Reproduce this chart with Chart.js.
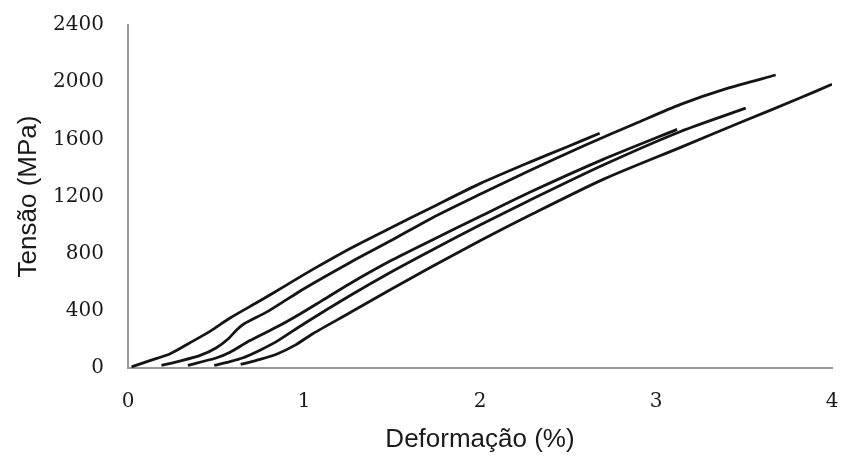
<!DOCTYPE html>
<html>
<head>
<meta charset="utf-8">
<script src="https://cdn.jsdelivr.net/npm/chart.js@4/dist/chart.umd.min.js"></script>
<style>
  html, body { margin: 0; padding: 0; background: #fff; }
  #wrap { width: 842px; height: 457px; position: relative; }
</style>
</head>
<body>
<div id="wrap"><canvas id="c" width="842" height="457"></canvas></div>
<script>
// Data
const xTicks = [0, 1, 2, 3, 4];
const yTicks = [0, 400, 800, 1200, 1600, 2000, 2400];

const strain1 = [0.02, 0.12, 0.24, 0.35, 0.47, 0.58, 0.75, 0.9, 1.05, 1.26, 1.5, 1.72, 2.0, 2.28, 2.5, 2.68];
const stress1 = [8, 50, 100, 175, 260, 350, 470, 580, 690, 835, 985, 1120, 1290, 1439, 1550, 1642];

const strain2 = [0.19, 0.3, 0.41, 0.5, 0.57, 0.62, 0.66, 0.8, 1.0, 1.26, 1.5, 1.72, 2.0, 2.28, 2.6, 2.9, 3.14, 3.4, 3.68];
const stress2 = [18, 50, 88, 140, 205, 270, 310, 400, 555, 737, 895, 1045, 1215, 1380, 1560, 1720, 1845, 1955, 2050];

const strain3 = [0.34, 0.5, 0.58, 0.69, 0.85, 0.98, 1.1, 1.26, 1.5, 1.72, 2.0, 2.28, 2.7, 3.12];
const stress3 = [18, 70, 110, 190, 290, 380, 470, 590, 755, 891, 1060, 1228, 1460, 1670];

const strain4 = [0.49, 0.58, 0.65, 0.75, 0.85, 1.0, 1.26, 1.5, 1.72, 2.0, 2.28, 2.7, 3.14, 3.51];
const stress4 = [18, 45, 70, 125, 190, 310, 505, 675, 821, 1000, 1172, 1420, 1655, 1818];

const strain5 = [0.64, 0.75, 0.85, 0.95, 1.05, 1.26, 1.5, 1.72, 2.0, 2.28, 2.7, 3.14, 3.51, 3.8, 4.0];
const stress5 = [25, 60, 100, 160, 240, 386, 555, 705, 890, 1067, 1320, 1544, 1733, 1880, 1985];

const series = [
  [strain1, stress1],
  [strain2, stress2],
  [strain3, stress3],
  [strain4, stress4],
  [strain5, stress5]
];

const datasets = series.map(([xs, ys], i) => ({
  label: 'CP ' + (i + 1),
  data: xs.map((x, k) => ({ x: x, y: ys[k] })),
  borderColor: '#151515',
  borderWidth: 2.8,
  pointRadius: 0,
  tension: 0.25,
  fill: false
}));

const tickFont = { family: '"DejaVu Serif", "Liberation Serif", serif', size: 20 };
const titleFont = { family: '"Liberation Sans", Arial, sans-serif', size: 26 };

new Chart(document.getElementById('c'), {
  type: 'line',
  data: { datasets },
  options: {
    responsive: false,
    animation: false,
    devicePixelRatio: 1,
    layout: { padding: { top: 25, right: 10, left: 0, bottom: 0 } },
    plugins: { legend: { display: false }, tooltip: { enabled: false } },
    scales: {
      x: {
        type: 'linear',
        min: 0, max: 4,
        afterBuildTicks: (s) => { s.ticks = xTicks.map(v => ({ value: v })); },
        afterFit: (s) => { s.height = 89; s.paddingLeft = 0; s.paddingRight = 0; },
        grid: { display: false, drawTicks: false },
        border: { display: true, color: '#999', width: 2 },
        ticks: { color: '#1a1a1a', font: tickFont, padding: 22, maxRotation: 0, callback: (v) => String(v) },
        title: { display: true, text: 'Deformação (%)', color: '#1a1a1a', font: titleFont, padding: { top: 0, bottom: 2 } }
      },
      y: {
        type: 'linear',
        min: 0, max: 2400,
        afterBuildTicks: (s) => { s.ticks = yTicks.map(v => ({ value: v })); },
        afterFit: (s) => { s.width = 128; s.paddingTop = 0; s.paddingBottom = 0; },
        grid: { display: false, drawTicks: false },
        border: { display: true, color: '#999', width: 2 },
        ticks: { color: '#1a1a1a', font: tickFont, padding: 24, callback: (v) => String(v) },
        title: { display: true, text: 'Tensão (MPa)', color: '#1a1a1a', font: titleFont, padding: { top: 13, bottom: 0 } }
      }
    }
  }
});
</script>
</body>
</html>
